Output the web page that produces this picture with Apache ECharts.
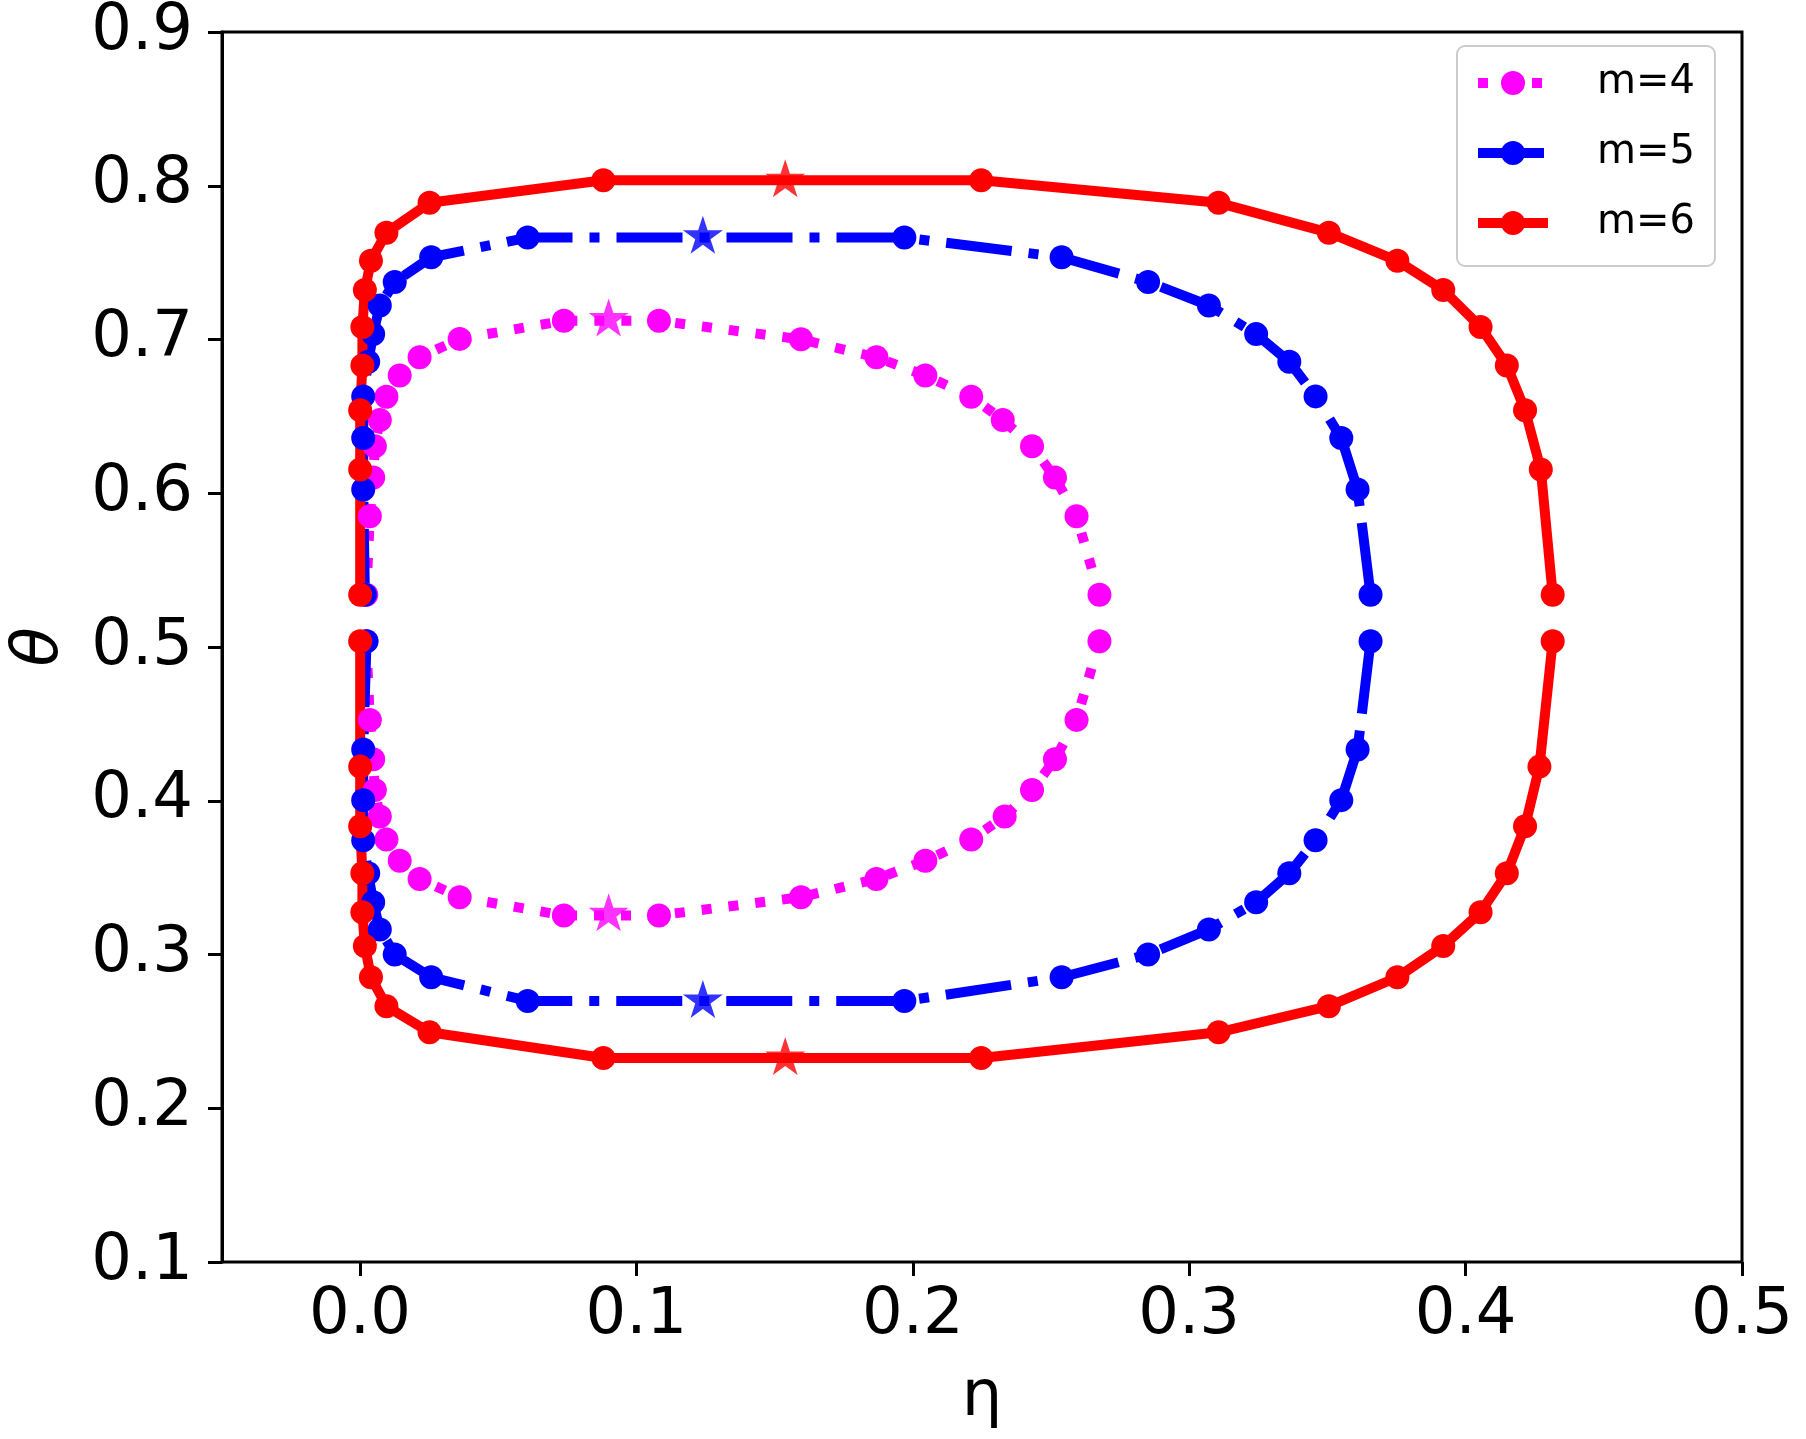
<!DOCTYPE html>
<html>
<head>
<meta charset="utf-8">
<script src="https://cdn.jsdelivr.net/npm/echarts@6/dist/echarts.min.js"></script>
<style>
  html, body { margin: 0; padding: 0; background: #fff; }
  #main { width: 1806px; height: 1439px; }
</style>
</head>
<body>
<div id="main"></div>
<script>
// curve points [eta, theta]; each curve is drawn as an upper and a lower branch
var m4Upper = [[0.0022,0.5340],[0.0035,0.5850],[0.0047,0.6102],[0.0053,0.6305],[0.0071,0.6477],[0.0095,0.6628],[0.0143,0.6766],[0.0215,0.6884],[0.0360,0.7004],[0.0737,0.7122],
  [0.1081,0.7122],[0.1595,0.7001],[0.1868,0.6884],[0.2045,0.6766],[0.2211,0.6628],[0.2325,0.6477],[0.2431,0.6305],[0.2514,0.6102],[0.2592,0.5850],[0.2675,0.5340]];
var m4Lower = [[0.0022,0.5038],[0.0035,0.4526],[0.0047,0.4270],[0.0053,0.4070],[0.0071,0.3898],[0.0095,0.3748],[0.0143,0.3610],[0.0215,0.3491],[0.0360,0.3373],[0.0737,0.3254],
  [0.1081,0.3254],[0.1595,0.3373],[0.1868,0.3491],[0.2045,0.3610],[0.2211,0.3748],[0.2332,0.3898],[0.2431,0.4070],[0.2514,0.4270],[0.2592,0.4526],[0.2675,0.5038]];
var m5Upper = [[0.0017,0.5340],[0.0011,0.6025],[0.0011,0.6359],[0.0011,0.6630],[0.0029,0.6855],[0.0047,0.7035],[0.0071,0.7221],[0.0125,0.7374],[0.0257,0.7535],[0.0606,0.7663],
  [0.1969,0.7663],[0.2538,0.7535],[0.2851,0.7374],[0.3071,0.7221],[0.3242,0.7035],[0.3362,0.6855],[0.3457,0.6630],[0.3550,0.6359],[0.3609,0.6025],[0.3656,0.5340]];
var m5Lower = [[0.0023,0.5038],[0.0011,0.4334],[0.0011,0.4004],[0.0011,0.3743],[0.0029,0.3528],[0.0047,0.3340],[0.0071,0.3163],[0.0125,0.3000],[0.0257,0.2852],[0.0606,0.2698],
  [0.1969,0.2698],[0.2538,0.2852],[0.2851,0.3000],[0.3071,0.3163],[0.3242,0.3340],[0.3362,0.3528],[0.3457,0.3743],[0.3550,0.4004],[0.3609,0.4334],[0.3656,0.5038]];
var m6Upper = [[0.0000,0.5340],[0.0000,0.6154],[0.0000,0.6540],[0.0008,0.6831],[0.0008,0.7081],[0.0017,0.7322],[0.0039,0.7512],[0.0095,0.7695],[0.0251,0.7889],[0.0880,0.8036],
  [0.2247,0.8036],[0.3106,0.7889],[0.3505,0.7695],[0.3753,0.7512],[0.3919,0.7322],[0.4054,0.7081],[0.4149,0.6831],[0.4215,0.6540],[0.4272,0.6154],[0.4315,0.5340]];
var m6Lower = [[0.0000,0.5038],[0.0000,0.4222],[0.0000,0.3834],[0.0008,0.3528],[0.0008,0.3275],[0.0017,0.3055],[0.0039,0.2852],[0.0095,0.2664],[0.0251,0.2494],[0.0880,0.2327],
  [0.2247,0.2327],[0.3106,0.2494],[0.3505,0.2664],[0.3753,0.2852],[0.3919,0.3055],[0.4054,0.3275],[0.4149,0.3528],[0.4215,0.3834],[0.4267,0.4222],[0.4315,0.5038]];

// star markers
var m4Stars = [[0.0899,0.7130],[0.0899,0.3262]];
var m5Stars = [[0.1240,0.7668],[0.1240,0.2698]];
var m6Stars = [[0.1538,0.8036],[0.1538,0.2327]];

var legendNames = ["m=4", "m=5", "m=6"];
var xTicks = [0.0, 0.1, 0.2, 0.3, 0.4, 0.5];
var yTicks = [0.1, 0.2, 0.3, 0.4, 0.5, 0.6, 0.7, 0.8, 0.9];

var FONT = "DejaVu Sans";
var starPath = "path://M100,0 L122.45,69.1 L195.11,69.1 L136.33,111.8 L158.78,180.9 L100,138.2 L41.22,180.9 L63.67,111.8 L4.89,69.1 L77.55,69.1 Z";

var styles = [
  { color: "#ff00ff", dash: [10, 17] },
  { color: "#0000ff", dash: [66, 17, 10, 17] },
  { color: "#ff0000", dash: "solid" }
];

function branch(name, data, st) {
  return {
    name: name,
    type: "line",
    xAxisIndex: 0,
    yAxisIndex: 0,
    data: data,
    symbol: "circle",
    symbolSize: 24,
    showSymbol: true,
    clip: false,
    itemStyle: { color: st.color },
    lineStyle: { color: st.color, width: 10, type: st.dash, cap: "butt" },
    emphasis: { disabled: true }
  };
}

function stars(name, data, st) {
  return {
    name: name,
    type: "scatter",
    xAxisIndex: 0,
    yAxisIndex: 0,
    data: data,
    symbol: starPath,
    symbolSize: [40, 38],
    symbolOffset: [0, -2],
    itemStyle: { color: st.color },
    z: 3
  };
}

var chart = echarts.init(document.getElementById("main"));

var upper = [m4Upper, m5Upper, m6Upper];
var lower = [m4Lower, m5Lower, m6Lower];
var starSets = [m4Stars, m5Stars, m6Stars];
var series = [];
for (var i = 0; i < 3; i++) {
  series.push(branch(legendNames[i], upper[i], styles[i]));
  series.push(branch(legendNames[i], lower[i], styles[i]));
  series.push(stars(legendNames[i] + " star", starSets[i], styles[i]));
}

var option = {
  animation: false,
  backgroundColor: "#ffffff",
  textStyle: { fontFamily: FONT },
  grid: [
    { left: 222, right: 64, top: 25, bottom: 177, show: true, borderColor: "#000", borderWidth: 3, backgroundColor: "transparent" },
    { left: 360, right: 64, top: 25, bottom: 177 }
  ],
  xAxis: [
    {
      type: "value", gridIndex: 0, min: -0.05, max: 0.5,
      name: "η", nameLocation: "middle", nameGap: 104,
      nameTextStyle: { fontSize: 64, color: "#000", fontFamily: FONT },
      axisLine: { show: false, onZero: false }, axisTick: { show: false },
      axisLabel: { show: false }, splitLine: { show: false }
    },
    {
      type: "value", gridIndex: 1, min: xTicks[0], max: xTicks[xTicks.length - 1], interval: 0.1,
      axisLine: { show: false, onZero: false },
      axisTick: { show: true, length: 14, lineStyle: { color: "#000", width: 3 } },
      axisLabel: { fontSize: 64, color: "#000", margin: 22, fontFamily: FONT,
        formatter: function (v) { return v.toFixed(1); } },
      splitLine: { show: false }
    }
  ],
  yAxis: [
    {
      type: "value", gridIndex: 0, min: yTicks[0], max: yTicks[yTicks.length - 1], interval: 0.1,
      name: "θ", nameLocation: "middle", nameGap: 150, nameRotate: 90,
      nameTextStyle: { fontSize: 64, color: "#000", fontStyle: "italic", fontFamily: FONT },
      axisLine: { show: true, onZero: false, lineStyle: { color: "#000", width: 3 } },
      axisTick: { show: true, length: 14, lineStyle: { color: "#000", width: 3 } },
      axisLabel: { fontSize: 64, color: "#000", margin: 29, fontFamily: FONT,
        formatter: function (v) { return v.toFixed(1); } },
      splitLine: { show: false }
    },
    { type: "value", gridIndex: 1, min: 0, max: 1, show: false }
  ],
  legend: {
    data: legendNames,
    orient: "vertical",
    left: 1457,
    top: 46,
    padding: [17, 20, 23, 16],
    itemWidth: 70,
    itemHeight: 30,
    itemGap: 30,
    backgroundColor: "#ffffff",
    borderColor: "#cccccc",
    borderWidth: 2,
    borderRadius: 8,
    lineStyle: { width: 10 },
    textStyle: { fontSize: 40, color: "#000", fontFamily: FONT, padding: [0, 0, 0, 44] },
    selectedMode: false
  },
  series: series
};

chart.setOption(option);
</script>
</body>
</html>
